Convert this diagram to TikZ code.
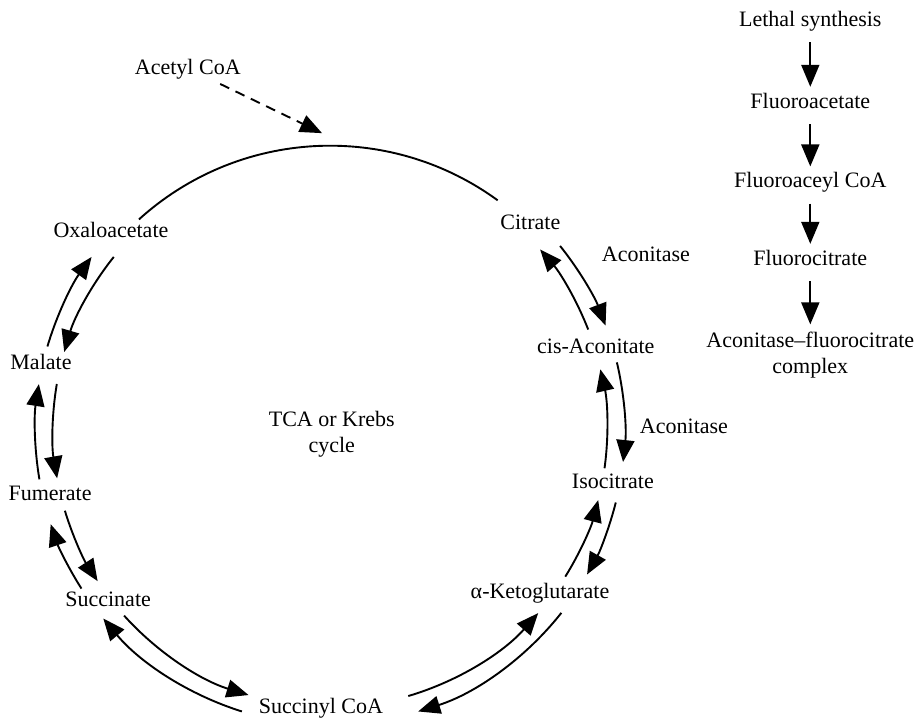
\documentclass[tikz,border=0pt]{standalone}
\usepackage{fontspec}
\setmainfont{Liberation Serif}
\usetikzlibrary{arrows.meta}

\begin{document}
\begin{tikzpicture}[
font=\fontsize{11}{13}\selectfont,
met/.style = {text height=1.5ex, text depth=.25ex},
tip/.style = {-{Triangle[length=11pt, width=9pt]}},
line width=0.95pt
                ]
    \useasboundingbox (-5.8,-5.1) rectangle (10.35,7.56);
    \def\r{5.0}    % top arc
    \def\ri{4.87}  % inner ring, back steps
    \def\ro{5.18}  % outer ring, forward steps

    % metabolites of the cycle
    \foreach \x/\y/\n/\t in {-3.85/3.48/oxa/Oxaloacetate, 3.52/3.62/cit/Citrate,
        4.67/1.44/cisac/cis-Aconitate, 4.97/-0.93/iso/Isocitrate,
        3.69/-2.85/akg/α-Ketoglutarate, -0.16/-4.87/sucoa/Succinyl CoA,
        -3.9/-2.99/suc/Succinate, -4.92/-1.13/fum/Fumerate, -5.08/1.16/mal/Malate}
        \node[met] at (\x,\y) (\n) {\t};
    \node[align=center] at (0.03,-0.07) (tca) {TCA or Krebs\\cycle};
    \node[met] at (5.55,3.06) (acon1) {Aconitase};
    \node[met] at (6.22,0.05) (acon2) {Aconitase};

    % acetyl CoA coming in
    \node[met] at (-2.5,6.36) (acetyl) {Acetyl CoA};
    \coordinate (entry) at (-0.14,5.22);
    \draw[tip, dash pattern=on 5pt off 3.5pt] (acetyl) -- (entry);

    % arc from oxaloacetate over to citrate
    \coordinate (oxa-out) at (132.2:\r);
    \draw (oxa-out) arc[start angle=132.2, end angle=53.9, radius=\r];

    % forward on the outside, backward on the inside
    \foreach \s/\e in {163.5/144, 189.6/171, 212.5/198.6, 252.6/219.7,
        -38.3/-72.6, -14.2/-29.3, 13.3/-6.2, 38.7/20.8}
        \draw[tip] (\s:\ro) arc[start angle=\s, end angle=\e, radius=\ro];
    \foreach \s/\e in {141.3/163.6, 170.4/190, 196.9/213, 222/252.9,
        -73.6/-41.3, -31.9/-14.6, -7.9/12.7, 21.3/40.7}
        \draw[tip] (\s:\ri) arc[start angle=\s, end angle=\e, radius=\ri];

    % lethal synthesis
    \foreach \y/\n/\t in {7.2/lethal/Lethal synthesis, 5.76/fac/Fluoroacetate,
        4.36/fcoa/Fluoroaceyl CoA, 3.0/fcit/Fluorocitrate}
        \node[met] at (8.44,\y) (\n) {\t};
    \node[align=center] at (8.44,1.32) (cplx) {Aconitase--fluorocitrate\\complex};
    \foreach \a/\b in {lethal/fac, fac/fcoa, fcoa/fcit, fcit/cplx}
        \draw[tip, shorten <=3pt] (\a) -- (\b);
\end{tikzpicture}
\end{document}
